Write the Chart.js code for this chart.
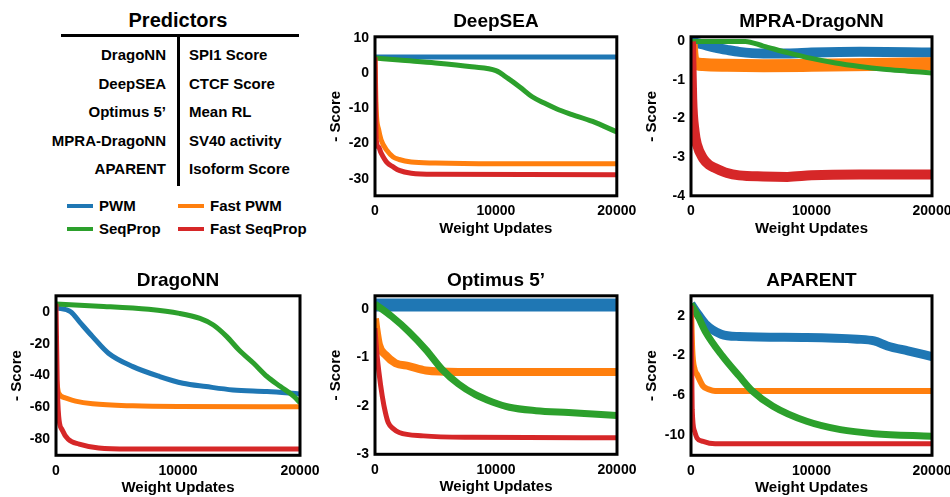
<!DOCTYPE html>
<html><head><meta charset="utf-8">
<script src="https://cdn.jsdelivr.net/npm/chart.js@4/dist/chart.umd.min.js"></script>
<style>
html,body{margin:0;padding:0;background:#fff}
body{width:950px;height:497px;overflow:hidden;position:relative;font-family:"Liberation Sans",Arial,sans-serif;font-weight:bold;color:#000}
.abs{position:absolute;white-space:nowrap}
.cv{position:absolute}
</style></head><body>
<div id="tbl"></div>
<div id="leg"></div>
<script>
// ---------- data ----------
const seriesNames = ["PWM", "Fast PWM", "SeqProp", "Fast SeqProp"];
const xTickValues = [0, 10000, 20000];
const predictorNames = ["DragoNN", "DeepSEA", "Optimus 5\u2019", "MPRA-DragoNN", "APARENT"];
const targetNames = ["SPI1 Score", "CTCF Score", "Mean RL", "SV40 activity", "Isoform Score"];

// DeepSEA
const deepseaYTicks = [10, 0, -10, -20, -30];
const deepseaPwmX = [0, 5000, 10000, 15000, 20000];
const deepseaPwmY = [4.6, 4.6, 4.6, 4.6, 4.6];
const deepseaFastPwmX = [0, 100, 300, 500, 1000, 1500, 2000, 3000, 5000, 10000, 20000];
const deepseaFastPwmY = [4.5, -10.4, -16, -18.9, -22, -23.8, -24.5, -25.2, -25.5, -25.7, -25.7];
const deepseaSeqX = [0, 2000, 5000, 8000, 10000, 11000, 12000, 13000, 14000, 15000, 16000, 18000, 20000];
const deepseaSeqY = [4.3, 3.7, 2.9, 1.8, 0.7, -1.5, -4, -6.7, -8.5, -10.1, -11.4, -13.7, -16.7];
const deepseaFastSeqX = [0, 100, 300, 500, 1000, 1500, 2000, 3000, 5000, 20000];
const deepseaFastSeqY = [4.5, -18.9, -21, -22.6, -25.4, -26.6, -27.6, -28.4, -28.7, -28.8];

// MPRA-DragoNN
const mpraYTicks = [0, -1, -2, -3, -4];
const mpraPwmX = [0, 500, 1000, 2000, 3000, 4000, 6000, 8000, 10000, 14000, 20000];
const mpraPwmY = [0, -0.04, -0.08, -0.16, -0.22, -0.27, -0.31, -0.31, -0.29, -0.27, -0.29];
const mpraFastPwmX = [0, 100, 300, 1000, 3000, 6000, 10000, 15000, 20000];
const mpraFastPwmY = [0, -0.4, -0.55, -0.6, -0.62, -0.63, -0.62, -0.6, -0.58];
const mpraSeqX = [0, 2000, 4500, 6000, 8000, 10000, 12000, 14000, 16000, 18000, 20000];
const mpraSeqY = [0, 0, 0, -0.12, -0.29, -0.44, -0.56, -0.65, -0.72, -0.77, -0.82];
const mpraFastSeqX = [0, 100, 300, 500, 1000, 1500, 2000, 3000, 4000, 6000, 8000, 10000, 14000, 20000];
const mpraFastSeqY = [0, -1.49, -2.34, -2.68, -3.03, -3.2, -3.28, -3.41, -3.47, -3.5, -3.51, -3.47, -3.45, -3.45];

// DragoNN
const dragonnYTicks = [0, -20, -40, -60, -80];
const dragonnPwmX = [0, 1200, 2000, 3000, 4300, 6300, 8500, 10400, 12300, 14500, 17300, 20000];
const dragonnPwmY = [2.5, 0, -7, -15.6, -26, -34.4, -40.6, -44.8, -46.9, -49, -50, -51.5];
const dragonnFastPwmX = [0, 80, 220, 770, 1600, 3000, 6300, 10000, 20000];
const dragonnFastPwmY = [-40, -45, -51, -54, -56, -57.7, -59, -59.4, -59.5];
const dragonnSeqX = [0, 3500, 7600, 10100, 11800, 12900, 14000, 15000, 16200, 17300, 18400, 19500, 20000];
const dragonnSeqY = [4.8, 3.5, 1.5, -1, -4.2, -8.3, -15.6, -24, -32.3, -40.6, -46.9, -53, -57];
const dragonnFastSeqX = [0, 100, 220, 500, 1000, 1900, 3500, 6000, 20000];
const dragonnFastSeqY = [5, -45, -65.6, -74, -80, -83, -85.4, -86, -86];

// Optimus 5'
const optimusYTicks = [0, -1, -2, -3];
const optimusPwmX = [0, 5000, 10000, 15000, 20000];
const optimusPwmY = [0.08, 0.08, 0.08, 0.08, 0.08];
const optimusFastPwmX = [0, 100, 330, 870, 1700, 2800, 4200, 6900, 20000];
const optimusFastPwmY = [-0.2, -0.4, -0.74, -0.95, -1.12, -1.18, -1.27, -1.3, -1.3];
const optimusSeqX = [0, 1400, 2800, 4200, 5550, 6900, 8300, 9700, 11100, 13300, 16000, 18000, 20000];
const optimusSeqY = [0.1, -0.16, -0.47, -0.84, -1.25, -1.55, -1.77, -1.92, -2.03, -2.1, -2.14, -2.17, -2.2];
const optimusFastSeqX = [0, 150, 315, 600, 870, 1100, 1500, 2000, 4000, 8000, 20000];
const optimusFastSeqY = [-0.4, -0.9, -1.29, -1.8, -2.15, -2.35, -2.47, -2.55, -2.62, -2.65, -2.66];

// APARENT
const aparentYTicks = [2, -2, -6, -10];
const aparentPwmX = [0, 600, 1200, 2500, 4000, 9600, 13800, 15200, 16300, 18000, 20000];
const aparentPwmY = [3.18, 2.1, 1.16, 0.15, -0.08, -0.18, -0.35, -0.52, -1.03, -1.53, -2.1];
const aparentFastPwmX = [0, 100, 300, 500, 1000, 1500, 2000, 10000, 20000];
const aparentFastPwmY = [3, -1.36, -3.38, -3.88, -5.06, -5.4, -5.56, -5.56, -5.56];
const aparentSeqX = [0, 600, 1200, 2600, 4000, 5100, 6800, 9600, 12400, 15200, 20000];
const aparentSeqY = [3.18, 1.9, 0.4, -2.03, -4.05, -5.56, -7.08, -8.59, -9.43, -9.83, -10.1];
const aparentFastSeqX = [0, 100, 300, 500, 1000, 2000, 20000];
const aparentFastSeqY = [3, -7.4, -9.6, -10.27, -10.6, -10.84, -10.84];

// ---------- styles / layout ----------
const seriesColors = ["#1f77b4", "#ff7f0e", "#2ca02c", "#d62728"];
const drawOrder = [3, 2, 1, 0]; // PWM bottom, Fast SeqProp top
const FONT = "'Liberation Sans', Arial, sans-serif";

const panels = [
  { title: "DeepSEA", area: [374.5, 36.3, 616.3, 195.3], yMin: -34.8, yMax: 10.3, yTicks: deepseaYTicks,
    series: [[deepseaPwmX, deepseaPwmY], [deepseaFastPwmX, deepseaFastPwmY], [deepseaSeqX, deepseaSeqY], [deepseaFastSeqX, deepseaFastSeqY]],
    widths: [5, 5, 5, 5] },
  { title: "MPRA-DragoNN", area: [690.5, 36.5, 931.5, 195.5], yMin: -4, yMax: 0.12, yTicks: mpraYTicks,
    series: [[mpraPwmX, mpraPwmY], [mpraFastPwmX, mpraFastPwmY], [mpraSeqX, mpraSeqY], [mpraFastSeqX, mpraFastSeqY]],
    widths: [10, 13, 5, 10] },
  { title: "DragoNN", area: [55.5, 296, 299.5, 455.5], yMin: -90, yMax: 10, yTicks: dragonnYTicks,
    series: [[dragonnPwmX, dragonnPwmY], [dragonnFastPwmX, dragonnFastPwmY], [dragonnSeqX, dragonnSeqY], [dragonnFastSeqX, dragonnFastSeqY]],
    widths: [5, 5, 5, 5] },
  { title: "Optimus 5\u2019", area: [374.5, 295.5, 616.5, 454], yMin: -3, yMax: 0.27, yTicks: optimusYTicks,
    series: [[optimusPwmX, optimusPwmY], [optimusFastPwmX, optimusFastPwmY], [optimusSeqX, optimusSeqY], [optimusFastSeqX, optimusFastSeqY]],
    widths: [13, 8, 7, 5] },
  { title: "APARENT", area: [690.5, 296, 931.5, 455.5], yMin: -12, yMax: 4, yTicks: aparentYTicks,
    series: [[aparentPwmX, aparentPwmY], [aparentFastPwmX, aparentFastPwmY], [aparentSeqX, aparentSeqY], [aparentFastSeqX, aparentFastSeqY]],
    widths: [9, 6, 7, 5] }
];

// ---------- table + legend (HTML text) ----------
function addDiv(parent, css, text) {
  const d = document.createElement("div");
  d.className = "abs";
  d.style.cssText = css;
  if (text !== undefined) d.textContent = text;
  parent.appendChild(d);
  return d;
}
const tbl = document.getElementById("tbl");
addDiv(tbl, "left:58px;top:8px;width:240px;text-align:center;font-size:20px;line-height:24px;", "Predictors");
addDiv(tbl, "left:61px;top:33.5px;width:238px;height:3px;background:#000;");
addDiv(tbl, "left:176.5px;top:35px;width:3px;height:151px;background:#000;");
predictorNames.forEach((p, i) => {
  const cy = 55 + i * 28.5;
  addDiv(tbl, "right:" + (950 - 166) + "px;top:" + (cy - 9) + "px;font-size:15px;line-height:18px;text-align:right;", p);
  addDiv(tbl, "left:189px;top:" + (cy - 9) + "px;font-size:15px;line-height:18px;", targetNames[i]);
});
const leg = document.getElementById("leg");
const legPos = [[67, 206], [178, 206], [67, 229], [178, 229]];
seriesNames.forEach((n, i) => {
  const [lx, ly] = legPos[i];
  addDiv(leg, "left:" + lx + "px;top:" + (ly - 2) + "px;width:26px;height:4px;background:" + seriesColors[i] + ";");
  addDiv(leg, "left:" + (lx + 32) + "px;top:" + (ly - 9) + "px;font-size:15px;line-height:18px;", n);
});

// ---------- charts ----------
const framePlugin = {
  id: "frame",
  afterDatasetsDraw(chart) {
    const { ctx, chartArea: a } = chart;
    ctx.save();
    ctx.lineWidth = 3;
    ctx.strokeStyle = "#000";
    ctx.strokeRect(a.left, a.top, a.right - a.left, a.bottom - a.top);
    ctx.restore();
  }
};

const TITLE_SIZE = 19;
const Y_W = 48, PAD_R = 30, TITLE_H = TITLE_SIZE * 1.2 + 4, X_H = 45;

panels.forEach(p => {
  const [L, T, R, B] = p.area;
  const wrap = document.createElement("div");
  wrap.className = "cv";
  const left = L - Y_W, top = T - TITLE_H;
  const w = Y_W + (R - L) + PAD_R, h = TITLE_H + (B - T) + X_H;
  wrap.style.cssText = "left:" + left + "px;top:" + top + "px;width:" + w + "px;height:" + h + "px;";
  const cv = document.createElement("canvas");
  wrap.appendChild(cv);
  document.body.appendChild(wrap);

  const datasets = p.series.map((s, i) => ({
    label: seriesNames[i],
    data: s[0].map((x, k) => ({ x: x, y: s[1][k] })),
    borderColor: seriesColors[i],
    backgroundColor: seriesColors[i],
    borderWidth: p.widths[i],
    pointRadius: 0,
    cubicInterpolationMode: "monotone",
    borderCapStyle: "butt",
    borderJoinStyle: "round",
    order: drawOrder[i],
    clip: 0
  }));

  new Chart(cv, {
    type: "line",
    data: { datasets },
    plugins: [framePlugin],
    options: {
      responsive: true,
      maintainAspectRatio: false,
      animation: false,
      events: [],
      layout: { padding: { left: 0, right: PAD_R, top: 0, bottom: 0 } },
      plugins: {
        legend: { display: false },
        tooltip: { enabled: false },
        title: {
          display: true, text: p.title, fullSize: false, color: "#000",
          font: { family: FONT, size: TITLE_SIZE, weight: "bold", lineHeight: 1.2 },
          padding: { top: 0, bottom: 4 }
        }
      },
      scales: {
        x: {
          type: "linear", min: 0, max: 20000,
          grid: { display: false, drawTicks: false },
          border: { display: false },
          afterBuildTicks: sc => { sc.ticks = xTickValues.map(v => ({ value: v })); },
          afterFit: sc => { sc.height = X_H; sc.paddingLeft = 0; sc.paddingRight = 0; },
          ticks: {
            color: "#000", padding: 7, autoSkip: false, maxRotation: 0,
            font: { family: FONT, size: 14, weight: "bold" },
            callback: v => String(v)
          },
          title: {
            display: true, text: "Weight Updates", color: "#000",
            font: { family: FONT, size: 15, weight: "bold" },
            padding: { top: 0, bottom: 3 }
          }
        },
        y: {
          type: "linear", min: p.yMin, max: p.yMax,
          grid: { display: false, drawTicks: false },
          border: { display: false },
          afterBuildTicks: sc => { sc.ticks = p.yTicks.map(v => ({ value: v })); },
          afterFit: sc => { sc.width = Y_W; sc.paddingTop = 0; sc.paddingBottom = 0; },
          ticks: {
            color: "#000", padding: 6,
            font: { family: FONT, size: 14, weight: "bold" },
            callback: v => String(v)
          },
          title: {
            display: true, text: "- Score", color: "#000",
            font: { family: FONT, size: 15, weight: "bold" },
            padding: { top: 0, bottom: 0 }
          }
        }
      }
    }
  });
});
</script>
</body></html>
